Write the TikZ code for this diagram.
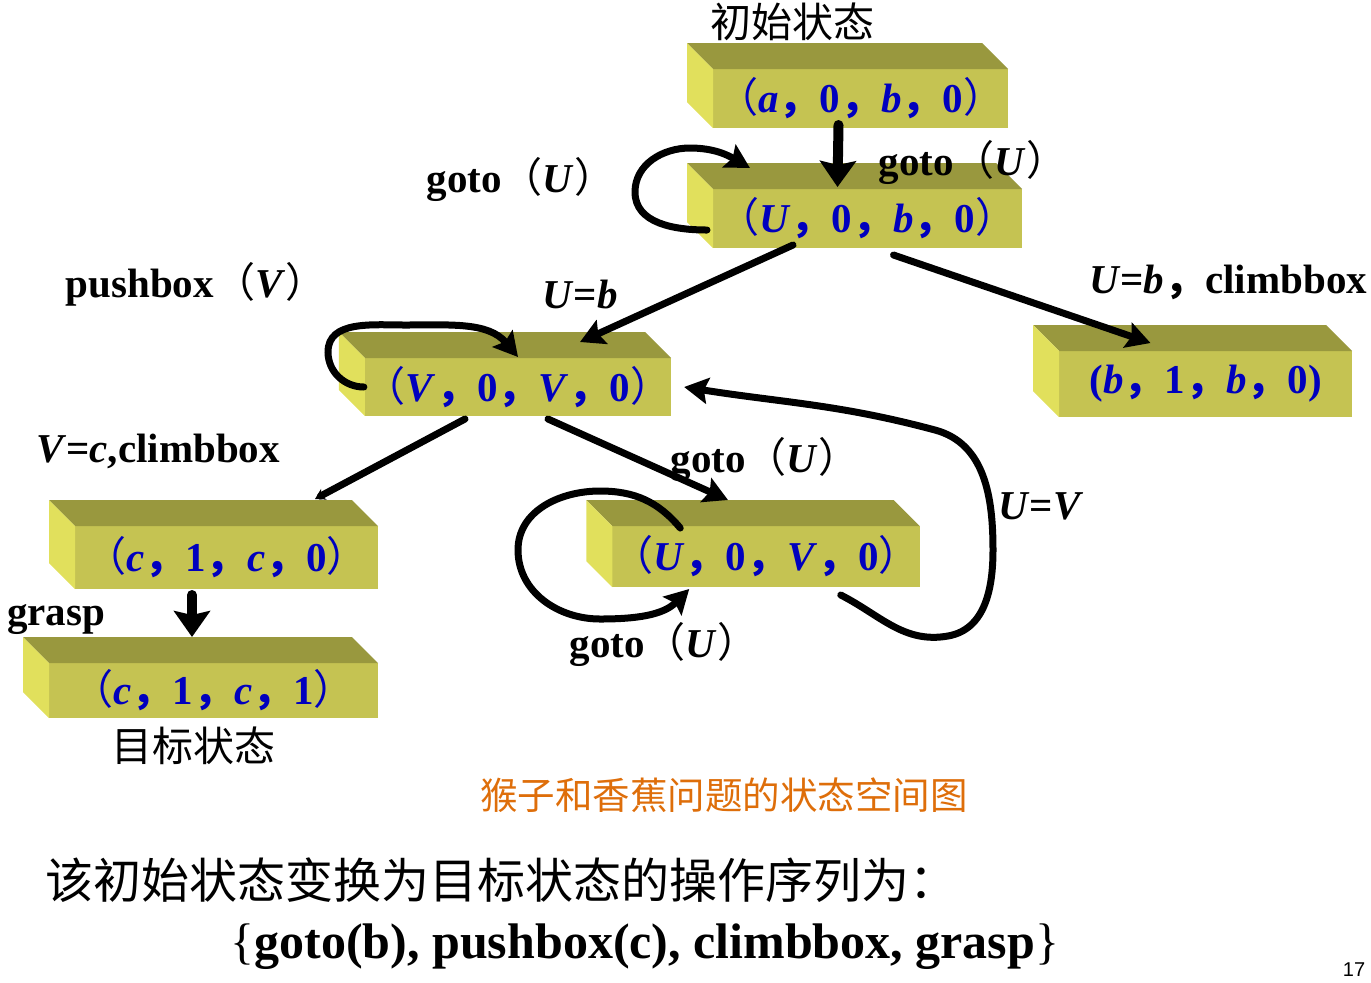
\documentclass[tikz,border=0pt]{standalone}
\usepackage{fontspec}
\setmainfont{Liberation Serif}
\setsansfont{Liberation Sans}
\newfontfamily\cjk{Noto Sans CJK SC}
\usetikzlibrary{arrows.meta,calc}

\definecolor{topc}{RGB}{153,152,62}
\definecolor{sidec}{RGB}{225,224,92}
\definecolor{frontc}{RGB}{197,195,82}
\definecolor{tupc}{RGB}{0,0,190}
\definecolor{capc}{RGB}{222,110,10}

\newcommand{\zlp}{{\cjk\mdseries （}}
\newcommand{\zrp}{{\cjk\mdseries ）}}
\newcommand{\zcm}{{\cjk ，}}

\begin{document}
\begin{tikzpicture}[x=0.5pt, y=0.5pt, line cap=round]

\tikzstyle{stbox}=[fill=frontc, inner sep=0pt, outer sep=0pt, text=tupc, font=\fontsize{20.5}{24}\selectfont\bfseries]
\tikzstyle{lbl}=[inner sep=0pt, anchor=base, font=\fontsize{20.5}{24}\selectfont\bfseries]
\tikzstyle{zh}=[inner sep=0pt, font=\fontsize{20.5}{24}\selectfont\cjk]
\tikzstyle{arr}=[line width=3.5pt, -{Stealth[length=12pt,width=13pt,inset=2pt]}]
\tikzstyle{varr}=[line width=5pt, -{Stealth[length=13pt,width=18pt,inset=2pt]}]

\useasboundingbox (0,0) rectangle (1371,-982);

% --- states: front faces ---
\node[stbox, minimum width=147.5pt, minimum height=29.5pt] (s1) at (860.5,-98.5) {\zlp\textit{a}\zcm 0\zcm\textit{b}\zcm 0\zrp};
\node[stbox, minimum width=154.5pt, minimum height=29.5pt] (s2) at (867.5,-218.5) {\zlp\textit{U}\zcm 0\zcm\textit{b}\zcm 0\zrp};
\node[stbox, minimum width=149pt, minimum height=29pt] (s3) at (518,-387) {\zlp\textit{V}\zcm 0\zcm\textit{V}\zcm 0\zrp};
\node[stbox, minimum width=146.5pt, minimum height=33pt] (s4) at (1205.5,-384) {(\textit{b}\zcm 1\zcm\textit{b}\zcm 0)};
\node[stbox, minimum width=151pt, minimum height=30.5pt] (s5) at (766,-556.5) {\zlp\textit{U}\zcm 0\zcm\textit{V}\zcm 0\zrp};
\node[stbox, minimum width=151.5pt, minimum height=31.5pt] (s6) at (226.5,-557.5) {\zlp\textit{c}\zcm 1\zcm\textit{c}\zcm 0\zrp};
\node[stbox, minimum width=164.5pt, minimum height=27.5pt] (s7) at (213.5,-690.5) {\zlp\textit{c}\zcm 1\zcm\textit{c}\zcm 1\zrp};

% --- states: top and side faces ---
\foreach \n in {s1,s2,s3,s4,s5,s6,s7} {
  \fill[topc] (\n.north west) -- ++(-26,26) -- ($(\n.north east)+(-26,26)$) -- (\n.north east) -- cycle;
  \fill[sidec] (\n.north west) -- ++(-26,26) -- ($(\n.south west)+(-26,26)$) -- (\n.south west) -- cycle;
}

% --- labels ---
\node[zh] (init) at (792,-22) {初始状态};
\node[zh] (goal) at (193,-746) {目标状态};
\node[lbl] (l1) at (973,-175) {goto\zlp\textit{U}\zrp};
\node[lbl] (l2) at (521,-192) {goto\zlp\textit{U}\zrp};
\node[lbl] (l3) at (196,-297) {pushbox\zlp\textit{V}\zrp};
\node[lbl] (l4) at (580,-308) {\textit{U}=\textit{b}};
\node[lbl] (l5) at (1228,-293) {\textit{U}=\textit{b}\zcm climbbox};
\node[lbl] (l6) at (158,-462) {\textit{V}=\textit{c},climbbox};
\node[lbl] (l7) at (765,-472) {goto\zlp\textit{U}\zrp};
\node[lbl] (l8) at (1041,-519) {\textit{U}=\textit{V}};
\node[lbl] (l9) at (56,-625) {grasp};
\node[lbl] (l10) at (664,-657) {goto\zlp\textit{U}\zrp};

% --- transitions ---
\draw[varr] ($(s1.south)+(-22,3)$) -- ($(s2.north)+(-30,2)$);
\draw[arr] ($(s2.south west)+(-6,18)$) to[out=180,in=270] (635,-192) to[out=90,in=180] (690,-148) to[out=0,in=150] ($(s2.north west)+(37,21)$);
\draw[arr] ($(s2.south west)+(80,3)$) -- ($(s3.north)+(62,16)$);
\draw[arr] ($(s2.south)+(26,-7)$) -- ($(s4.north)+(-55,8)$);
\draw[arr] ($(s3.west)+(-1,0)$) to[out=180,in=270] (328,-352) to[out=90,in=180] (405,-325) to[out=0,in=130] ($(s3.north)+(0,1)$);
\draw[line width=3.5pt, -{Stealth[length=5pt,width=6pt]}] ($(s3.south)+(-53,-3)$) -- ($(s6.north west)+(240,27)$);
\draw[arr] ($(s3.south)+(30,-3)$) -- ($(s5.north)+(-38,26)$);
\draw[arr] ($(s5.north west)+(68,-2)$) to[out=130,in=0] (600,-491) to[out=180,in=90] (518,-550) to[out=270,in=180] (600,-619) to[out=0,in=225] ($(s5.south west)+(77,-2)$);
\draw[arr] ($(s5.south east)+(-79,-8)$) to[out=-27,in=190] (948,-636) to[out=10,in=270] (993,-550) to[out=90,in=-15] (935,-430) to[out=165,in=-9] ($(s3.east)+(13,0)$);
\draw[varr] ($(s6.south)+(-34.5,-6)$) -- ($(s7.north)+(-21.5,26)$);

% --- caption and sequence ---
\node[inner sep=0pt, text=capc, font=\fontsize{18.75}{22}\selectfont\cjk] (cap) at (724,-795) {猴子和香蕉问题的状态空间图};
\node[inner sep=0pt, anchor=west, font=\fontsize{24}{28}\selectfont\cjk] (seqzh) at (45,-880) {该初始状态变换为目标状态的操作序列为：};
\node[inner sep=0pt, anchor=base, font=\fontsize{25}{30}\selectfont\bfseries] (seq) at (645,-958) {{\mdseries\{}goto(b), pushbox(c), climbbox, grasp{\mdseries\}}};
\node[inner sep=0pt, anchor=base, font=\fontsize{10}{12}\selectfont\sffamily] (pg) at (1354,-976) {17};

\end{tikzpicture}
\end{document}
